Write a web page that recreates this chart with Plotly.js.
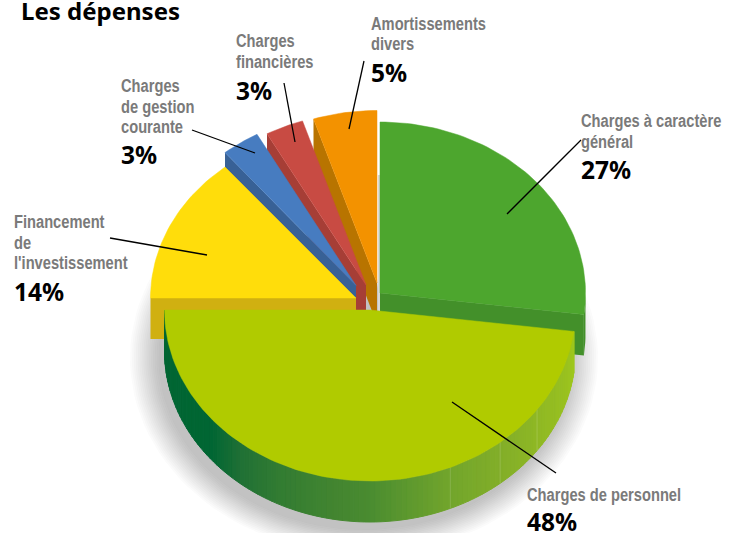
<!DOCTYPE html>
<html><head><meta charset="utf-8">
<script src="https://cdn.plot.ly/plotly-3.0.1.min.js"></script>
<style>html,body{margin:0;padding:0;background:#fff}#c{width:741px;height:533px}</style>
</head><body><div id="c"></div>
<script>
// DATA
const categories = ["Charges à caractère général","Charges de personnel","Financement de l'investissement","Charges de gestion courante","Charges financières","Amortissements divers"];
const values = [27,48,14,3,3,5];
const labelLines = [["Charges à caractère","général"],["Charges de personnel"],["Financement","de","l'investissement"],["Charges","de gestion","courante"],["Charges","financières"],["Amortissements","divers"]];
const title = "Les dépenses";

// STYLE / LAYOUT
const topColors = ["#4DA62E","#B0CB00","#FFDD0B","#477CC0","#C84B43","#F39200"];
const wallColors = ["#43902A","#4A8C30","#D0B011","#386196","#A63E36","#B87400"];
const centers = [[380,293],[370,310],[356,298],[356,285.5],[366,285],[377,283]];
const radiiY = [171,171,170,172.5,172.5,172.5];
const RX = 205.5, DEPTH = 41;
const labelPos = [[581,121,169],[527,495,521],[14,222,291],[121,86,154],[236,41,90],[371,24,72]];
const lineGap = [21,0,20.5,20.5,21,20];
const leaders = [[[581,140],[507,214]],[[556,473],[452,402]],[[110,238],[207,255]],[[192,130],[255,153]],[[284,83],[295,142]],[[364,61],[349,129]]];
const gradX = [165,212,240,280,340,370,450,510,565,575];
const gradC = [[0,102,51],[0,102,51],[31,112,53],[50,124,50],[68,134,48],[74,140,48],[114,165,44],[133,176,40],[152,192,32],[158,200,28]];
const NAME_SQUEEZE = 0.815;

const traces = [];
function poly(xs, ys, fill, lineColor, lw){
  traces.push({type:"scatter",mode:"lines",x:xs,y:ys,fill:"toself",fillcolor:fill,
    line:{color:lineColor||fill,width:lw===undefined?0:lw},hoverinfo:"skip",showlegend:false});
}
function seg(p,q,color,w){
  traces.push({type:"scatter",mode:"lines",x:[p[0],q[0]],y:[p[1],q[1]],line:{color:color,width:w},hoverinfo:"skip",showlegend:false});
}
const rad = d => d*Math.PI/180;
const pt = (i,t,dy) => [centers[i][0]+RX*Math.sin(rad(t)), centers[i][1]-radiiY[i]*Math.cos(rad(t))+(dy||0)];
function arc(i,t0,t1,dy){
  const n = Math.max(2,Math.ceil(Math.abs(t1-t0)/1.5)), out=[];
  for(let k=0;k<=n;k++) out.push(pt(i,t0+(t1-t0)*k/n,dy));
  return out;
}
function gradAt(x){
  for(let i=1;i<gradX.length;i++) if(x<=gradX[i]){
    const f=(x-gradX[i-1])/(gradX[i]-gradX[i-1]);
    const c=gradC[i].map((v,k)=>Math.round(gradC[i-1][k]+(v-gradC[i-1][k])*Math.max(0,f)));
    return "rgb("+c.join(",")+")";
  }
  return "rgb("+gradC[gradC.length-1].join(",")+")";
}

// slice angles from values
const total = values.reduce((a,b)=>a+b,0);
const angles = []; let acc = 0;
values.forEach(v=>{angles.push([acc/total*360,(acc+v)/total*360]); acc+=v;});

// soft shadow beneath the pie
for(let d=30;d>=0;d-=2){
  const xs=[],ys=[];
  for(let t=70;t<=300;t+=3){
    xs.push(364+(RX+d*0.95)*Math.sin(rad(t)));
    ys.push(358-(172+d*0.8)*Math.cos(rad(t)));
  }
  poly(xs,ys,"rgba(70,75,75,0.02)");
}

// thin shadow strip between orange and green
seg([379,175],[379,312],"#d8d8d8",2.2);

function cutWall(i,t){
  const c=centers[i], r=pt(i,t);
  poly([r[0],c[0],c[0],r[0],r[0]],[r[1],c[1],c[1]+DEPTH,r[1]+DEPTH,r[1]],wallColors[i]);
}
function topFace(i){
  const c=centers[i], a=arc(i,angles[i][0],angles[i][1]);
  poly([c[0],...a.map(p=>p[0]),c[0]],[c[1],...a.map(p=>p[1]),c[1]],topColors[i],topColors[i],0.5);
}
function rimWall(i,t0,t1,colorFn,lw){
  const a=arc(i,t0,t1), b=arc(i,t0,t1,DEPTH).reverse();
  const all=[...a,...b,a[0]];
  const col=colorFn||wallColors[i];
  poly(all.map(p=>p[0]),all.map(p=>p[1]),col,col,lw);
}

// green
rimWall(0,90,angles[0][1]);
cutWall(0,angles[0][1]);
topFace(0);
// far slices: back to front
[5,4,3].forEach(i=>{cutWall(i,angles[i][0]); topFace(i);});
// yellow
cutWall(2,angles[2][0]);
topFace(2);
// lime: rim with gradient strips
const step=1.5;
for(let t=angles[1][1]-step;t>=angles[1][0]-step;t-=step){
  const t0=Math.max(t,angles[1][0]), t1=Math.min(t+step,angles[1][1]);
  if(t1<=t0) continue;
  rimWall(1,t0,t1,gradAt(pt(1,(t0+t1)/2)[0]),1);
}
// faint seams in the rim
[125.6,140.7,157].forEach(t=>{
  const p=pt(1,t); seg(p,[p[0],p[1]+DEPTH],"rgba(255,255,255,0.15)",1);
});
topFace(1);

// leader lines
leaders.forEach(l=>seg(l[0],l[1],"#000000",1.3));

// text
const annotations=[];
function txt(x,y,text,font){
  annotations.push({x,y,text,xref:"x",yref:"y",xanchor:"left",yanchor:"middle",showarrow:false,align:"left",font,xshift:-2});
}
const nameFont={family:"'Liberation Sans',sans-serif",size:18,color:"#7a7a7a",weight:700};
const pctFont={family:"'Noto Sans','Open Sans',sans-serif",size:24.5,color:"#000000",weight:700};
const nameSet=new Set();
labelLines.forEach((ls,i)=>{
  ls.forEach((s,k)=>{nameSet.add(s);txt(labelPos[i][0],labelPos[i][1]+k*lineGap[i],s,nameFont);});
  txt(labelPos[i][0],labelPos[i][2],values[i]+"%",pctFont);
});
txt(21,10,title,{family:"'Noto Sans','Open Sans',sans-serif",size:24,color:"#000000",weight:700});

Plotly.newPlot("c",traces,{
  width:741,height:533,margin:{l:0,r:0,t:0,b:0},
  paper_bgcolor:"#ffffff",plot_bgcolor:"#ffffff",showlegend:false,hovermode:false,
  xaxis:{range:[0,741],visible:false,fixedrange:true},
  yaxis:{range:[533,0],visible:false,fixedrange:true},
  annotations
},{displayModeBar:false,staticPlot:true}).then(gd=>{
  // condensed label face: no narrow font is installed, so squeeze the real text
  gd.querySelectorAll(".annotation").forEach(g=>{
    const t=g.querySelector("text");
    if(!t||!nameSet.has(t.textContent)) return;
    const w=t.getComputedTextLength();
    t.setAttribute("textLength",(w*NAME_SQUEEZE).toFixed(1));
    t.setAttribute("lengthAdjust","spacingAndGlyphs");
    t.style.textAnchor="start";
    g.querySelectorAll("rect").forEach(r=>{
      const rw=parseFloat(r.getAttribute("width"));
      if(rw) r.setAttribute("width",(rw*NAME_SQUEEZE).toFixed(1));
    });
  });
});
</script></body></html>
